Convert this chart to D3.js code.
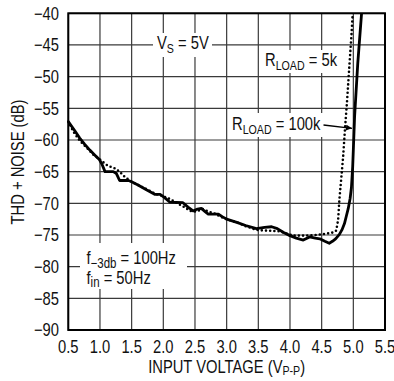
<!DOCTYPE html>
<html><head><meta charset="utf-8">
<script src="https://cdn.jsdelivr.net/npm/d3@7"></script>
<style>html,body{margin:0;padding:0;background:#fff;}</style>
</head><body>
<svg id="chart" width="394" height="381"></svg>
<script>
// ---- data ----
const xTicks = [0.5,1.0,1.5,2.0,2.5,3.0,3.5,4.0,4.5,5.0,5.5];
const yTicks = [-40,-45,-50,-55,-60,-65,-70,-75,-80,-85,-90];

// R_LOAD = 100k (solid)
const solidV = [0.5,0.6,0.68,0.76,0.84,0.92,0.99,1.03,1.08,1.21,1.26,1.31,1.45,1.5,1.6,1.74,1.87,1.95,2.02,2.10,2.31,2.39,2.47,2.54,2.60,2.66,2.71,2.87,2.93,3.0,3.16,3.3,3.47,3.6,3.71,3.8,3.9,4.0,4.1,4.21,4.31,4.4,4.47,4.55,4.62,4.67,4.72,4.78,4.82,4.86,4.89,4.92,4.95,4.97,4.99,5.02,5.07,5.13];
const solidDB = [-57.1,-58.5,-59.7,-60.7,-61.6,-62.4,-63.1,-63.8,-65.0,-65.0,-65.3,-66.4,-66.4,-66.6,-67.1,-67.9,-68.6,-68.6,-69.1,-69.8,-69.9,-70.6,-71.2,-70.9,-70.8,-71.3,-71.7,-71.7,-72.1,-72.5,-73.0,-73.5,-74.0,-73.8,-73.7,-74.0,-74.6,-75.1,-75.5,-75.8,-75.3,-75.5,-75.6,-76.0,-76.3,-76.0,-75.6,-74.9,-74.2,-73.2,-72.0,-70.8,-69.2,-67.5,-64.2,-56.3,-47.9,-40];

// R_LOAD = 5k (dotted)
const dotV = [0.5,0.58,0.68,0.76,0.82,0.89,0.95,1.0,1.1,1.18,1.24,1.31,1.39,1.5,1.6,1.74,1.87,1.95,2.10,2.26,2.35,2.42,2.52,2.62,2.71,2.81,2.9,3.0,3.16,3.3,3.47,3.6,3.84,3.95,4.05,4.26,4.4,4.57,4.68,4.73,4.76,4.78,4.81,4.84,4.87,4.90,4.94,4.97,4.99];
const dotDB = [-57.1,-58.7,-60.1,-60.9,-61.5,-62.3,-62.7,-63.1,-63.9,-64.3,-64.5,-65.0,-65.8,-66.6,-67.1,-67.8,-68.5,-68.7,-69.3,-70.2,-70.7,-71.2,-71.3,-70.9,-71.3,-71.6,-72.1,-72.5,-73.0,-73.6,-74.2,-74.3,-74.4,-74.8,-75.1,-75.1,-75.0,-74.8,-74.6,-74.3,-72.6,-69.4,-66.0,-62.5,-58.0,-54.0,-47.9,-43.5,-40];

// ---- layout ----
const FONT = "'Liberation Sans',Arial,sans-serif";
const SX = 0.82; // condensed look
const L = 68.3, R = 385, T = 13.3, B = 330;
const svg = d3.select("#chart");
const x = d3.scaleLinear().domain([0.5,5.5]).range([L,R]);
const y = d3.scaleLinear().domain([-90,-40]).range([B,T]);

// grid
const grid = svg.append("g").attr("stroke","#3a3a3a").attr("stroke-width",1.2);
grid.selectAll("line.v").data(xTicks).join("line")
  .attr("x1",d=>x(d)).attr("x2",d=>x(d)).attr("y1",T).attr("y2",B);
grid.selectAll("line.h").data(yTicks).join("line")
  .attr("x1",L).attr("x2",R).attr("y1",d=>y(d)).attr("y2",d=>y(d));

// label backgrounds
const boxes = [[153,33,59,24],[262,50,80,23],[228,113,97,24],[80,243,107,46]];
svg.selectAll("rect.bg").data(boxes).join("rect")
  .attr("x",d=>d[0]).attr("y",d=>d[1]).attr("width",d=>d[2]).attr("height",d=>d[3]).attr("fill","#fff");

// frame
svg.append("rect").attr("x",L).attr("y",T).attr("width",R-L).attr("height",B-T)
  .attr("fill","none").attr("stroke","#000").attr("stroke-width",2);

// curves
const lineY = d3.line().x(d=>x(d[0])).y(d=>y(d[1])).curve(d3.curveLinear);
const dotData = dotV.map((v,i)=>[v,dotDB[i]]);
const solidData = solidV.map((v,i)=>[v,solidDB[i]]);
svg.append("path").attr("d",lineY(dotData)).attr("fill","none").attr("stroke","#000")
  .attr("stroke-width",2.6).attr("stroke-linecap","round").attr("stroke-dasharray","0 4.2");
svg.append("path").attr("d",lineY(solidData)).attr("fill","none").attr("stroke","#000")
  .attr("stroke-width",2.8).attr("stroke-linejoin","round");

// text helper: condensed text placed at (px,py)
function ctext(px, py, anchor, rot) {
  const g = svg.append("g").attr("transform",`translate(${px},${py})${rot?` rotate(${rot})`:""} scale(${SX},1)`);
  return g.append("text").attr("x",0).attr("y",0).attr("text-anchor",anchor||"start")
    .attr("font-family",FONT).attr("font-size",18).attr("fill","#111");
}

// axes labels
yTicks.forEach(d => ctext(59, y(d), "end").attr("dy","0.36em").text("\u2212"+Math.abs(d)));
xTicks.forEach(d => ctext(x(d), 353, "middle").text(d.toFixed(1)));

// titles
const xt = ctext((L+R)/2, 373, "middle");
xt.append("tspan").text("INPUT VOLTAGE (V");
xt.append("tspan").attr("font-size",13).attr("dy",2).text("P-P");
xt.append("tspan").attr("dy",-2).text(")");
ctext(24, 162, "middle", -90).text("THD + NOISE (dB)");

// annotations
function sub(xp, yp, main, s, rest, ss, sdy) {
  const t = ctext(xp, yp, "start");
  t.append("tspan").text(main);
  t.append("tspan").attr("font-size",ss||13).attr("dy",sdy||4).text(s);
  t.append("tspan").attr("dy",-(sdy||4)).text(rest);
  return t;
}
sub(157,48.5,"V","S"," = 5V");
sub(265,66,"R","LOAD"," = 5k");
sub(232,130,"R","LOAD"," = 100k");
sub(86.5,264,"f","\u22123db"," = 100Hz",14,3.5);
sub(86.5,283.5,"f","in"," = 50Hz",14,3);

// arrow
const defs = svg.append("defs");
defs.append("marker").attr("id","ah").attr("viewBox","0 0 10 10").attr("refX",10).attr("refY",5)
  .attr("markerWidth",9).attr("markerHeight",6).attr("markerUnits","userSpaceOnUse").attr("orient","auto")
  .append("path").attr("d","M0,0 L10,5 L0,10 Z").attr("fill","#000");
svg.append("line").attr("x1",323.5).attr("y1",125).attr("x2",352).attr("y2",128.3)
  .attr("stroke","#000").attr("stroke-width",1.3).attr("marker-end","url(#ah)");
</script>
</body></html>
